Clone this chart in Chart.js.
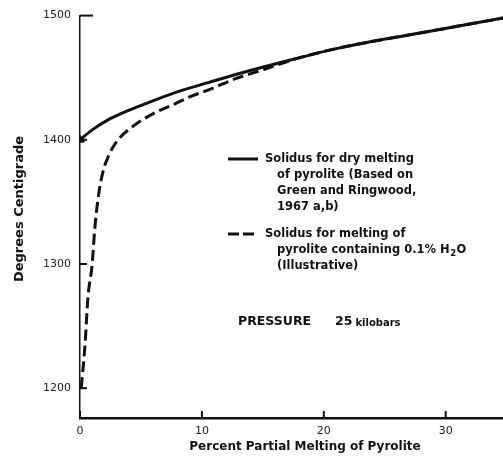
<!DOCTYPE html>
<html>
<head>
<meta charset="utf-8">
<script src="https://cdn.jsdelivr.net/npm/chart.js@4.4.0/dist/chart.umd.min.js"></script>
<style>
  html, body { margin: 0; padding: 0; background: #fff; overflow: hidden; }
  #wrap { width: 503px; height: 462px; position: relative; }
</style>
</head>
<body>
<div id="wrap"><canvas id="solidusChart"></canvas></div>
<script>
// Solidus for dry melting of pyrolite
const dryMelt = [0, 1.0, 2.3, 3.6, 5.1, 7.8, 10.5, 13.3, 16.0, 21.3, 27.9, 34.7];
const dryTemp = [1400, 1408, 1416, 1422, 1428, 1438, 1446, 1454, 1461, 1474, 1486, 1498];

// Solidus for pyrolite with 0.1% H2O
const wetMelt = [0.1, 0.4, 0.65, 1.0, 1.2, 1.5, 1.9, 2.3, 2.7, 3.3, 4.1, 5.1, 6.4, 7.8, 9.1, 10.5, 12.7, 14.9, 18.0, 21.3, 27.9, 34.7];
const wetTemp = [1200, 1233, 1273, 1300, 1327, 1354, 1375, 1386, 1394, 1402, 1409, 1416, 1423, 1429, 1435, 1440, 1449, 1456, 1466, 1474, 1486, 1498];

const xTicks = [0, 10, 20, 30];
const yTicks = [1200, 1300, 1400, 1500];

const ink = '#111';
const bold = size => 'bold ' + size + 'px "DejaVu Sans", sans-serif';

function toPoints(xs, ys) {
    return xs.map((x, i) => ({ x: x, y: ys[i] }));
}

// inside tick marks, axis titles and the in-plot legend text
const notesPlugin = {
    id: 'notes',
    afterDraw(chart) {
        const ctx = chart.ctx;
        const xs = chart.scales.x;
        const ys = chart.scales.y;
        const area = chart.chartArea;
        ctx.save();
        ctx.strokeStyle = ink;
        ctx.fillStyle = ink;

        ctx.lineWidth = 2;
        yTicks.forEach(v => {
            const py = ys.getPixelForValue(v);
            const len = v === 1500 ? 13 : 7;
            ctx.beginPath();
            ctx.moveTo(area.left, py);
            ctx.lineTo(area.left + len, py);
            ctx.stroke();
        });
        xTicks.forEach(v => {
            const px = xs.getPixelForValue(v);
            ctx.beginPath();
            ctx.moveTo(px, area.bottom);
            ctx.lineTo(px, area.bottom - 7);
            ctx.stroke();
        });

        // axis titles
        ctx.font = bold(12);
        ctx.textAlign = 'center';
        ctx.textBaseline = 'middle';
        ctx.fillText('Percent Partial Melting of Pyrolite', 305, 447);
        ctx.save();
        ctx.translate(20, 209);
        ctx.rotate(-Math.PI / 2);
        ctx.font = bold(13);
        ctx.fillText('Degrees Centigrade', 0, 0);
        ctx.restore();

        // legend samples
        ctx.lineWidth = 3;
        ctx.beginPath();
        ctx.moveTo(228, 159);
        ctx.lineTo(258, 159);
        ctx.stroke();
        ctx.setLineDash([11, 4]);
        ctx.beginPath();
        ctx.moveTo(228, 234);
        ctx.lineTo(258, 234);
        ctx.stroke();
        ctx.setLineDash([]);

        const legendFont = bold(11.5);
        ctx.font = legendFont;
        ctx.textAlign = 'left';
        ctx.fillText('Solidus for dry melting', 265, 159);
        ctx.fillText('of pyrolite (Based on', 277, 175);
        ctx.fillText('Green and Ringwood,', 277, 191);
        ctx.fillText('1967 a,b)', 277, 207);

        ctx.fillText('Solidus for melting of', 265, 234);
        const line2 = 'pyrolite containing 0.1% H';
        ctx.fillText(line2, 277, 250);
        const w = ctx.measureText(line2).width;
        ctx.font = bold(8.5);
        ctx.fillText('2', 277 + w + 0.5, 254);
        const w2 = ctx.measureText('2').width;
        ctx.font = legendFont;
        ctx.fillText('O', 277 + w + w2 + 1, 250);
        ctx.fillText('(Illustrative)', 277, 266);

        // pressure note
        ctx.font = bold(12.5);
        ctx.fillText('PRESSURE', 238, 322);
        ctx.fillText('25', 335, 322);
        const w25 = ctx.measureText('25').width;
        ctx.font = bold(10);
        ctx.fillText('kilobars', 335 + w25 + 3, 323);

        ctx.restore();
    }
};

new Chart(document.getElementById('solidusChart').getContext('2d'), {
    type: 'line',
    data: {
        datasets: [
            {
                label: 'Solidus for dry melting of pyrolite',
                data: toPoints(dryMelt, dryTemp),
                borderColor: ink,
                backgroundColor: ink,
                borderWidth: 3,
                cubicInterpolationMode: 'monotone',
                pointStyle: 'triangle',
                pointRotation: 236,
                pointRadius: ctx => ctx.dataIndex === 0 ? 5 : 0,
                pointBorderWidth: 1
            },
            {
                label: 'Solidus for melting of pyrolite containing 0.1% H2O',
                data: toPoints(wetMelt, wetTemp),
                borderColor: ink,
                borderWidth: 3,
                borderDash: [11, 5],
                cubicInterpolationMode: 'monotone',
                pointRadius: 0
            }
        ]
    },
    options: {
        responsive: true,
        maintainAspectRatio: false,
        animation: false,
        layout: {
            autoPadding: false,
            padding: { top: 15, right: 0, left: 0, bottom: 0 }
        },
        plugins: {
            legend: { display: false },
            tooltip: { enabled: false }
        },
        scales: {
            x: {
                type: 'linear',
                min: 0,
                max: 34.7,
                afterFit: scale => { scale.height = 44; },
                afterBuildTicks: scale => { scale.ticks = xTicks.map(v => ({ value: v })); },
                grid: { drawOnChartArea: false, drawTicks: false },
                border: { display: true, color: ink, width: 2.5 },
                ticks: {
                    padding: 7,
                    color: '#222',
                    callback: v => String(v),
                    font: { family: '"DejaVu Sans", sans-serif', size: 11 }
                }
            },
            y: {
                type: 'linear',
                min: 1176,
                max: 1500,
                afterFit: scale => { scale.width = 80; },
                afterBuildTicks: scale => { scale.ticks = yTicks.map(v => ({ value: v })); },
                grid: { drawOnChartArea: false, drawTicks: false },
                border: { display: true, color: ink, width: 1.5 },
                ticks: {
                    padding: 9,
                    color: '#222',
                    callback: v => String(v),
                    font: { family: '"DejaVu Sans", sans-serif', size: 11 }
                }
            }
        }
    },
    plugins: [notesPlugin]
});
</script>
</body>
</html>
